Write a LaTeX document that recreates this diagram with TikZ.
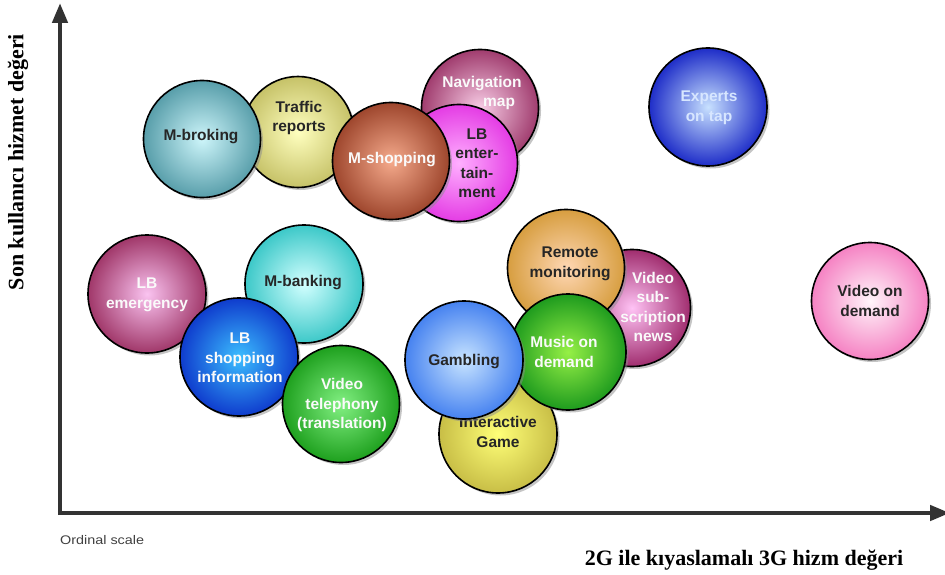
\documentclass[tikz,border=0pt]{standalone}
\usepackage{fontspec}
\setmainfont{Liberation Serif}
\newfontfamily\bubblefont{Liberation Sans}
\usetikzlibrary{shadows,arrows.meta}
\tikzset{
  ball/.style n args={2}{circle, draw=black, line width=1.6pt, minimum size=#1, inner sep=0pt,
     #2, drop shadow={shadow xshift=2.5pt, shadow yshift=-2.5pt, fill=black!45, opacity=.5}},
  lbl/.style={align=center, inner sep=0pt, font=\bubblefont\bfseries\fontsize{15.5}{19.5}\selectfont},
  dk/.style={lbl, text=black!85},
  wt/.style={lbl, text=white!96!gray},
  axis/.style={line width=4.5pt, draw=black!80, -{Triangle[length=20pt,width=15pt]}},
  axlab/.style={font=\bfseries\fontsize{22}{24}\selectfont, inner sep=0pt},
}
\begin{document}
\begin{tikzpicture}[x=1pt,y=-1pt]
\useasboundingbox (0,0) rectangle (945,575);
% axes
\coordinate (o) at (60,513);
\coordinate (ytop) at (60,3);
\coordinate (xend) at (950,513);
\draw[axis] ([yshift=-2.2pt]o) -- (ytop);
\draw[axis] ([xshift=-2.2pt]o) -- (xend);
\node[axlab, rotate=90] (ylab) at (18,162) {Son kullanıcı hizmet değeri};
\node[axlab] (xlab) at (744,560) {2G ile kıyaslamalı 3G hizm değeri};
\node[font=\bubblefont\fontsize{12.5}{14}\selectfont, text=black!75, anchor=west, inner sep=0pt] (ord) at (60,540) {\scalebox{1.15}[1]{Ordinal scale}};
% bubbles (drawn back to front)
\node[ball={111pt}{inner color=yellow!25!white, outer color={rgb,255:red,198;green,194;blue,104}}] (traffic) at (298,132) {};
\node[dk] (trafficT) at (299,118) {Traffic\\reports};
\node[ball={117pt}{inner color={rgb,255:red,205;green,245;blue,250}, outer color={rgb,255:red,88;green,158;blue,170}}] (mbroking) at (202,139) {};
\node[dk] (mbrokingT) at (201,137) {M-broking};
\node[ball={117pt}{inner color={rgb,255:red,248;green,205;blue,230}, outer color={rgb,255:red,160;green,60;blue,110}}] (navi) at (480,108) {};
\node[wt] (naviT) at (482,93) {Navigation\\\hspace*{2.2em}map};
\node[ball={117pt}{inner color={rgb,255:red,255;green,175;blue,255}, outer color={rgb,255:red,228;green,60;blue,228}}] (lbent) at (459,163) {};
\node[dk] (lbentT) at (477,163) {LB\\enter-\\tain-\\ment};
\node[ball={117pt}{inner color={rgb,255:red,245;green,170;blue,140}, outer color={rgb,255:red,158;green,70;blue,45}}] (mshop) at (391,161) {};
\node[wt] (mshopT) at (392,160) {M-shopping};
\node[ball={118pt}{inner color={rgb,255:red,200;green,225;blue,255}, outer color={rgb,255:red,30;green,45;blue,200}}] (experts) at (708,107) {};
\node[lbl, text={rgb,255:red,215;green,230;blue,255}] (expertsT) at (709,108) {Experts\\on tap};
\node[ball={117pt}{inner color={rgb,255:red,255;green,195;blue,245}, outer color={rgb,255:red,160;green,45;blue,110}}] (vsub) at (632,308) {};
\node[wt] (vsubT) at (653,307) {Video\\sub-\\scription\\news};
\node[ball={117pt}{inner color={rgb,255:red,255;green,215;blue,180}, outer color={rgb,255:red,215;green,158;blue,64}}] (remote) at (566,268) {};
\node[dk] (remoteT) at (570,264) {Remote\\monitoring};
\node[ball={118pt}{inner color={rgb,255:red,255;green,255;blue,120}, outer color={rgb,255:red,200;green,190;blue,70}}] (igame) at (498,434) {};
\node[dk] (igameT) at (498,432) {Interactive\\Game};
\node[ball={116pt}{inner color={rgb,255:red,150;green,240;blue,70}, outer color={rgb,255:red,30;green,155;blue,30}}] (music) at (568,352) {};
\node[wt] (musicT) at (564,352) {Music on\\demand};
\node[ball={118pt}{inner color={rgb,255:red,200;green,228;blue,255}, outer color={rgb,255:red,70;green,130;blue,240}}] (gamb) at (464,360) {};
\node[dk] (gambT) at (464,362) {Gambling};
\node[ball={118pt}{inner color={rgb,255:red,250;green,195;blue,240}, outer color={rgb,255:red,160;green,55;blue,105}}] (lbem) at (147,294) {};
\node[wt] (lbemT) at (147,295) {LB\\emergency};
\node[ball={118pt}{inner color={rgb,255:red,210;green,255;blue,255}, outer color={rgb,255:red,60;green,200;blue,200}}] (mbank) at (304,284) {};
\node[dk] (mbankT) at (303,283) {M-banking};
\node[ball={118pt}{inner color={rgb,255:red,60;green,190;blue,255}, outer color={rgb,255:red,15;green,60;blue,205}}] (lbshop) at (239,357) {};
\node[wt] (lbshopT) at (240,358) {LB\\shopping\\information};
\node[ball={117pt}{inner color={rgb,255:red,130;green,240;blue,130}, outer color={rgb,255:red,30;green,160;blue,30}}] (vtel) at (341,404) {};
\node[wt] (vtelT) at (342,405) {Video\\telephony\\(translation)};
\node[ball={117pt}{inner color={rgb,255:red,255;green,245;blue,250}, outer color={rgb,255:red,245;green,130;blue,195}}] (vod) at (870,301) {};
\node[dk] (vodT) at (870,301) {Video on\\demand};
\end{tikzpicture}
\end{document}
